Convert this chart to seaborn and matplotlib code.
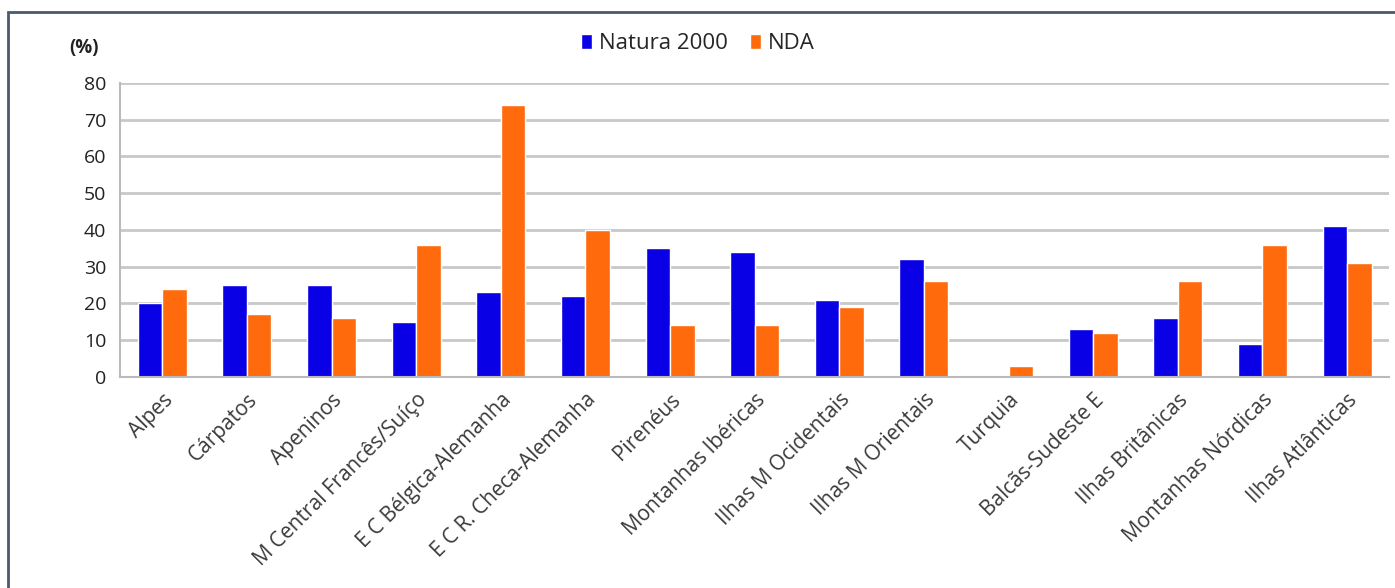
import matplotlib
matplotlib.use("Agg")
import matplotlib.pyplot as plt
import matplotlib.patches as mpatches
import pandas as pd
import seaborn as sns

regions = [
    "Alpes", "Cárpatos", "Apeninos", "M Central Francês/Suíço",
    "E C Bélgica-Alemanha", "E C R. Checa-Alemanha", "Pirenéus",
    "Montanhas Ibéricas", "Ilhas M Ocidentais", "Ilhas M Orientais",
    "Turquia", "Balcãs-Sudeste E", "Ilhas Britânicas",
    "Montanhas Nórdicas", "Ilhas Atlânticas",
]
natura = [20, 25, 25, 15, 23, 22, 35, 34, 21, 32, 0, 13, 16, 9, 41]
nda = [24, 17, 16, 36, 74, 40, 14, 14, 19, 26, 3, 12, 26, 36, 31]
series = ["Natura 2000", "NDA"]
colors = ["#0a00e6", "#ff6a0d"]
y_ticks = [0, 10, 20, 30, 40, 50, 60, 70, 80]

df = pd.DataFrame({
    "region": regions * 2,
    "value": natura + nda,
    "serie": [series[0]] * len(regions) + [series[1]] * len(regions),
})

sns.set_style("white")
plt.rcParams["font.family"] = ["Open Sans", "DejaVu Sans"]

fig = plt.figure(figsize=(13.95, 5.88), dpi=100)
ax = fig.add_axes([0.086, 0.359, 0.91, 0.5])

sns.barplot(data=df, x="region", y="value", hue="serie", palette=colors,
            width=0.58, saturation=1, ax=ax, legend=True)

ax.set_ylim(0, 80)
ax.set_xlim(-0.5, len(regions) - 0.5)
ax.set_yticks(y_ticks)
ax.set_yticklabels([str(t) for t in y_ticks], fontsize=14, color="#222222")
ax.yaxis.grid(True, color="#c8c8c8", linewidth=2)
ax.set_axisbelow(True)
ax.set_xlabel("")
ax.set_ylabel("")

# category labels and tick marks between categories
ax.set_xticks(range(len(regions)))
ax.set_xticklabels(regions, rotation=45, ha="right", rotation_mode="anchor",
                   fontsize=15, color="#3a3a3a")
ax.tick_params(axis="x", length=0, pad=9)
ax.set_xticks([i - 0.5 for i in range(len(regions) + 1)], minor=True)
ax.tick_params(axis="x", which="minor", length=4, color="#bbbbbb", width=1)
ax.tick_params(axis="y", length=4, color="#bbbbbb", pad=6)

for side in ["top", "right"]:
    ax.spines[side].set_visible(False)
for side in ["left", "bottom"]:
    ax.spines[side].set_color("#bbbbbb")
    ax.spines[side].set_linewidth(1.5)

ax.legend(loc="lower center", bbox_to_anchor=(0.455, 1.03), ncol=2,
          frameon=False, fontsize=16, handlelength=0.5, handleheight=0.7,
          columnspacing=1.0, handletextpad=0.3)

fig.text(0.05, 0.91, "(%)", fontsize=13.5, fontweight="bold", color="#222222")

# outer frame
fig.patches.append(mpatches.Rectangle((0.006, -0.01), 1.0, 0.99,
                                      transform=fig.transFigure, fill=False,
                                      edgecolor="#4a5a70", linewidth=2))

fig.savefig("out.png", dpi=100)
plt.close(fig)
